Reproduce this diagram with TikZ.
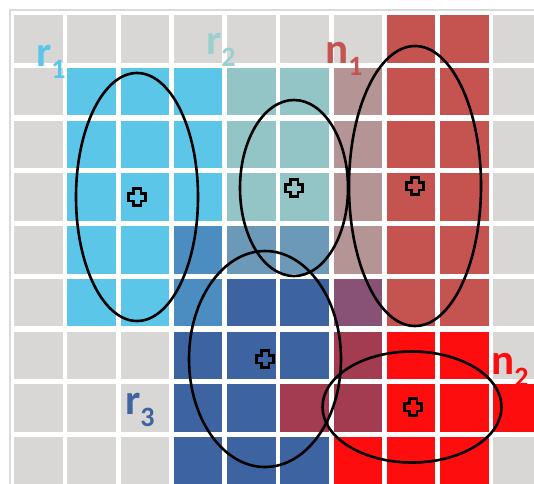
\documentclass[tikz,border=0pt]{standalone}
\usepackage{fontspec}
\setmainfont{Carlito}
\usetikzlibrary{shapes.geometric}

\definecolor{cellG}{HTML}{D9D6D6}
\definecolor{cellB}{HTML}{5CC6E8}
\definecolor{cellT}{HTML}{93C4C6}
\definecolor{cellN}{HTML}{C55350}
\definecolor{cellM}{HTML}{B49494}
\definecolor{cellS}{HTML}{4B8DC0}
\definecolor{cellU}{HTML}{6D99B8}
\definecolor{cellD}{HTML}{3D64A0}
\definecolor{cellP}{HTML}{875276}
\definecolor{cellC}{HTML}{A33C50}
\definecolor{cellR}{HTML}{FD0D0D}
\definecolor{labT}{HTML}{9CD0CE}

\begin{document}
\begin{tikzpicture}[x=1pt,y=-1pt,
  ring/.style={draw=black, line width=2.6pt, ellipse, inner sep=0pt},
  lab/.style={anchor=base west, inner sep=0pt, font=\fontsize{43}{43}\selectfont\bfseries},
  pluscross/.pic={\draw[line width=2.2pt] (-3.6,-8.5) -- (3.6,-8.5) -- (3.6,-3.6) -- (8.5,-3.6) -- (8.5,3.6) -- (3.6,3.6)
    -- (3.6,8.5) -- (-3.6,8.5) -- (-3.6,3.6) -- (-8.5,3.6) -- (-8.5,-3.6) -- (-3.6,-3.6) -- cycle;}]
\clip (0,0) rectangle (534,483);
\fill[white] (0,0) rectangle (534,483);
\draw[black!15, line width=1.5pt] (10,10) rectangle (560,500);

% cells, row by row
\foreach \row [count=\r from 0] in {
  {G,G,G,G,G,G,G,N,N,G},
  {G,B,B,B,T,T,M,N,N,G},
  {G,B,B,B,T,T,M,N,N,G},
  {G,B,B,B,T,T,M,N,N,G},
  {G,B,B,S,U,U,M,N,N,G},
  {G,B,B,S,D,D,P,N,N,G},
  {G,G,G,D,D,D,C,R,R,G},
  {G,G,G,D,D,C,C,R,R,R},
  {G,G,G,D,D,D,R,R,R,G}} {
  \foreach \c [count=\col from 0] in \row {
    \fill[cell\c] ({14+53.25*\col},{15+52.75*\r}) rectangle +(48.5,47.5);
  }
}

% regions
\node[ring, minimum width=122pt, minimum height=248pt] (r1ring) at (137,197) {};
\node[ring, minimum width=108pt, minimum height=176pt] (r2ring) at (294,188) {};
\node[ring, minimum width=132pt, minimum height=280pt] (n1ring) at (415,186) {};
\node[ring, minimum width=152pt, minimum height=216pt] (r3ring) at (265,359) {};
\node[ring, minimum width=179pt, minimum height=111pt] (n2ring) at (412,407) {};

\pic at (r1ring.center) {pluscross};
\pic at (r2ring.center) {pluscross};
\pic at (n1ring.center) {pluscross};
\pic at (r3ring.center) {pluscross};
\pic at (413,407) {pluscross};

% labels
\node[lab, text=cellB] (r1lab) at (36,66) {r\raisebox{-12pt}{\fontsize{28}{28}\selectfont 1}};
\node[lab, text=labT] (r2lab) at (206,54) {r\raisebox{-12pt}{\fontsize{28}{28}\selectfont 2}};
\node[lab, text=cellN] (n1lab) at (325,63) {n\raisebox{-12pt}{\fontsize{28}{28}\selectfont 1}};
\node[lab, text=cellD] (r3lab) at (125,414) {r\raisebox{-12pt}{\fontsize{28}{28}\selectfont 3}};
\node[lab, text=cellR] (n2lab) at (491,374) {n\raisebox{-12pt}{\fontsize{28}{28}\selectfont 2}};
\end{tikzpicture}
\end{document}
